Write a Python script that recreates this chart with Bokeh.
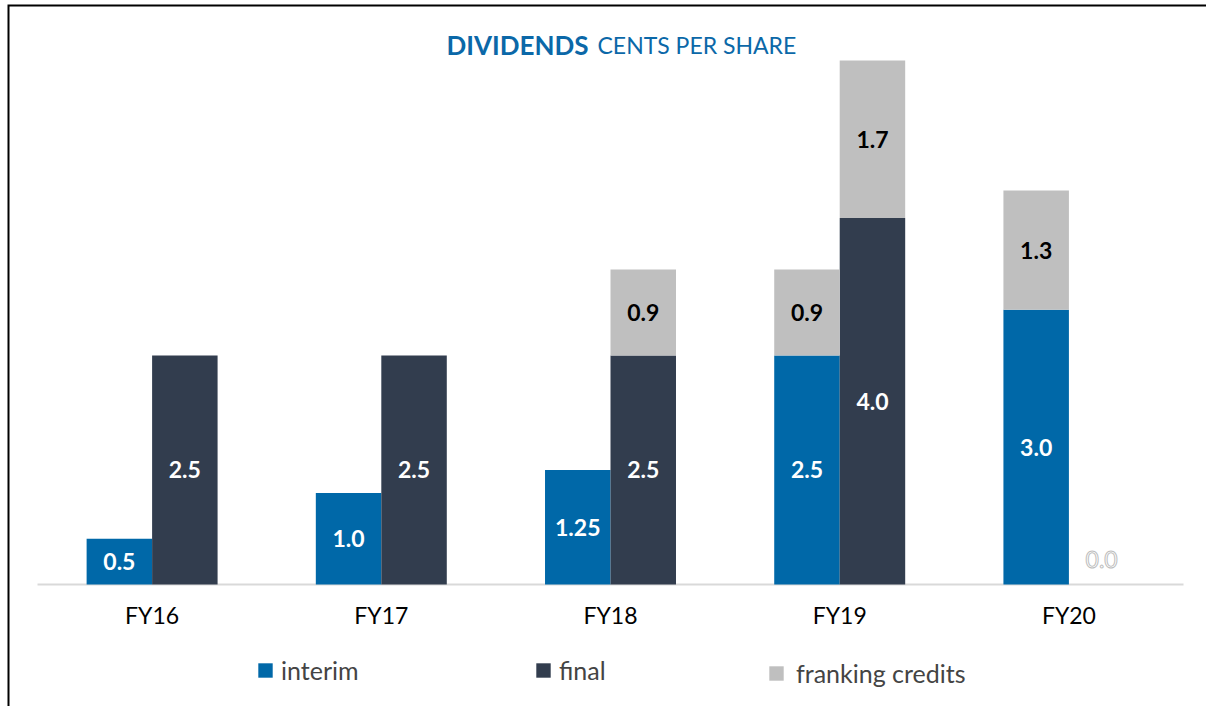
from bokeh.plotting import figure
from bokeh.models import (Range1d, ColumnDataSource, Label, Legend,
                          LegendItem, BoxAnnotation)
from bokeh.core.properties import value
from bokeh.embed import file_html
from bokeh.resources import INLINE

# ---- data ----
years = ["FY16", "FY17", "FY18", "FY19", "FY20"]
interim = [0.5, 1.0, 1.25, 2.5, 3.0]
final = [2.5, 2.5, 2.5, 4.0, 0.0]
franking_on_interim = [0.0, 0.0, 0.0, 0.94, 1.3]
franking_on_final = [0.0, 0.0, 0.94, 1.72, 0.0]
interim_labels = ["0.5", "1.0", "1.25", "2.5", "3.0"]
final_labels = ["2.5", "2.5", "2.5", "4.0", "0.0"]
franking_interim_labels = ["", "", "", "0.9", "1.3"]
franking_final_labels = ["", "", "0.9", "1.7", ""]

C_INT = "#0068A8"
C_FIN = "#323D4E"
C_FRK = "#BFBFBF"
C_TITLE = "#0B68A8"
FONT = "Lato"

W = 2 / 7          # bar width (category units)
OFF = W / 2
n = len(years)

# frame covers the whole page below/right of the page border
X0, X1 = -0.1309, 5.1003
Y0, Y1 = -1.3319, 6.3319
LABEL_Y = -0.338   # category label position below the baseline
ZERO_Y = 0.27      # position of the label of a zero-height bar

p = figure(width=1206, height=706, x_range=Range1d(X0, X1), y_range=Range1d(Y0, Y1),
           output_backend="svg", toolbar_location=None,
           min_border_left=7, min_border_right=0, min_border_top=4, min_border_bottom=0)
p.outline_line_color = None
p.xgrid.grid_line_color = None
p.ygrid.grid_line_color = None
p.xaxis.visible = False
p.yaxis.visible = False
p.background_fill_color = "white"
p.border_fill_color = "white"

centers = [i + 0.5 for i in range(n)]
xi = [c - OFF for c in centers]
xf = [c + OFF for c in centers]

# baseline (category axis line)
p.line(x=[0, n], y=[0, 0], line_color="#D9D9D9", line_width=2)

src = ColumnDataSource(dict(xi=xi, xf=xf, interim=interim, final=final))
r_int = p.vbar(x="xi", top="interim", width=W, source=src, fill_color=C_INT, line_color=None)
r_fin = p.vbar(x="xf", top="final", width=W, source=src, fill_color=C_FIN, line_color=None)

fi = [i for i, v in enumerate(franking_on_interim) if v > 0]
ff = [i for i, v in enumerate(franking_on_final) if v > 0]
src_fi = ColumnDataSource(dict(
    x=[xi[i] for i in fi],
    bottom=[interim[i] for i in fi],
    top=[interim[i] + franking_on_interim[i] for i in fi],
    mid=[interim[i] + franking_on_interim[i] / 2 for i in fi],
    lab=[franking_interim_labels[i] for i in fi]))
src_ff = ColumnDataSource(dict(
    x=[xf[i] for i in ff],
    bottom=[final[i] for i in ff],
    top=[final[i] + franking_on_final[i] for i in ff],
    mid=[final[i] + franking_on_final[i] / 2 for i in ff],
    lab=[franking_final_labels[i] for i in ff]))
r_frk = p.vbar(x="x", bottom="bottom", top="top", width=W, source=src_fi,
               fill_color=C_FRK, line_color=None)
p.vbar(x="x", bottom="bottom", top="top", width=W, source=src_ff,
       fill_color=C_FRK, line_color=None)

# data labels
LBL = dict(text_font=value(FONT), text_font_style="bold", text_font_size="23px",
           text_align="center", text_baseline="middle")
src_il = ColumnDataSource(dict(x=xi, y=[v / 2 for v in interim], lab=interim_labels))
nz = [i for i, v in enumerate(final) if v > 0]
z = [i for i, v in enumerate(final) if v == 0]
src_fn = ColumnDataSource(dict(x=[xf[i] for i in nz], y=[final[i] / 2 for i in nz],
                               lab=[final_labels[i] for i in nz]))
src_fz = ColumnDataSource(dict(x=[xf[i] for i in z], y=[ZERO_Y for i in z],
                               lab=[final_labels[i] for i in z]))
p.text(x="x", y="y", text="lab", source=src_il, text_color="white", **LBL)
p.text(x="x", y="y", text="lab", source=src_fn, text_color="white", **LBL)
p.text(x="x", y="y", text="lab", source=src_fz, text_color="white",
       text_outline_color="#BDBDBD", text_font=value(FONT), text_font_size="23px",
       text_align="center", text_baseline="middle")
p.text(x="x", y="mid", text="lab", source=src_fi, text_color="black", **LBL)
p.text(x="x", y="mid", text="lab", source=src_ff, text_color="black", **LBL)

# category labels
src_cat = ColumnDataSource(dict(x=centers, y=[LABEL_Y] * n, lab=years))
p.text(x="x", y="y", text="lab", source=src_cat, text_color="black",
       text_font=value(FONT), text_font_size="23px", text_align="center",
       text_baseline="middle")

# title
p.add_layout(Label(x=581, y=662, x_units="screen", y_units="screen", text="DIVIDENDS",
                   text_font=FONT, text_font_style="bold", text_font_size="26px",
                   text_color=C_TITLE, text_align="right", text_baseline="alphabetic"))
p.add_layout(Label(x=590, y=662, x_units="screen", y_units="screen", text="CENTS PER SHARE",
                   text_font=FONT, text_font_size="23px",
                   text_color=C_TITLE, text_align="left", text_baseline="alphabetic"))

# legends
def add_leg(renderer, label, x, y, standoff):
    leg = Legend(items=[LegendItem(label=label, renderers=[renderer])],
                 location=(x, y), orientation="horizontal",
                 glyph_width=18, glyph_height=18, label_standoff=standoff,
                 label_text_font=FONT, label_text_font_size="25px",
                 label_height=14, padding=0, margin=0, border_line_color=None,
                 background_fill_alpha=0)
    p.add_layout(leg, "center")

add_leg(r_int, "interim", 249, 21, 7)
add_leg(r_fin, "final", 527, 21, 7)
add_leg(r_frk, "franking credits", 760, 18, 11)

# page frame (left and top edges visible)
p.add_layout(BoxAnnotation(left=X0, top=Y1, right=X1 + 1, bottom=Y0 - 1,
                           fill_color=None, fill_alpha=0, line_color="black",
                           line_alpha=1, line_width=4))

open("out.html", "w").write(file_html(p, INLINE))
